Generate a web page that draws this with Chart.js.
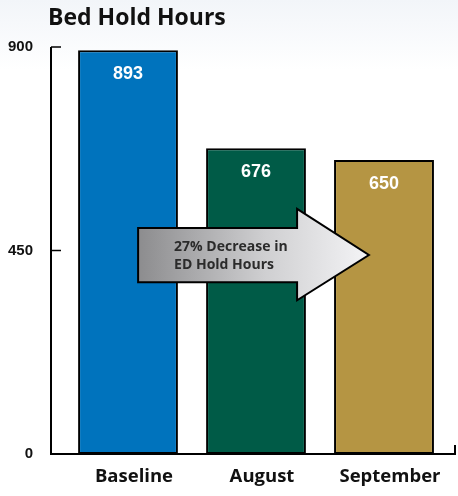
<!DOCTYPE html>
<html>
<head>
<meta charset="utf-8">
<script src="https://cdn.jsdelivr.net/npm/chart.js@4"></script>
<style>
  html, body { margin: 0; padding: 0; background: #fff; }
  #wrap { width: 458px; height: 496px; }
</style>
</head>
<body>
<div id="wrap"><canvas id="bedChart" width="458" height="496"></canvas></div>
<script>
const categories = ["Baseline", "August", "September"];
const hours = [893, 676, 650];
const yTicks = [0, 450, 900];
const barColors = ["#0073bd", "#005b47", "#b59543"];

const titleText = "Bed Hold Hours";
const arrowText = ["27% Decrease in", "ED Hold Hours"];

// title, axes, value labels and the arrow
const decorPlugin = {
  id: "decor",
  beforeDraw(chart) {
    const c = chart.ctx;
    const g = c.createLinearGradient(0, 0, 0, 70);
    g.addColorStop(0, "#f2f5f9");
    g.addColorStop(1, "#ffffff");
    c.save();
    c.fillStyle = g;
    c.fillRect(0, 0, chart.width, chart.height);
    c.restore();
  },
  afterDatasetsDraw(chart) {
    const c = chart.ctx;
    const area = chart.chartArea;
    const y = chart.scales.y;
    const meta = chart.getDatasetMeta(0);

    // value labels inside bars
    c.save();
    c.fillStyle = "#ffffff";
    c.font = "bold 18px 'Liberation Sans', Arial, sans-serif";
    c.textAlign = "center";
    c.textBaseline = "middle";
    meta.data.forEach((bar, i) => {
      c.fillText(String(hours[i]), bar.x, bar.y + 24);
    });
    c.restore();

    // axis lines
    const ax = area.left - 13;
    const y0 = y.getPixelForValue(0);
    const yTop = y.getPixelForValue(900);
    c.save();
    c.strokeStyle = "#000";
    c.lineWidth = 2;
    c.beginPath();
    c.moveTo(ax, yTop);
    c.lineTo(ax, y0);
    c.lineTo(area.right + 7, y0);
    c.lineTo(area.right + 7, y0 - 9);
    c.stroke();
    c.lineWidth = 1.5;
    [900, 450].forEach(v => {
      const py = y.getPixelForValue(v);
      c.beginPath();
      c.moveTo(ax, py);
      c.lineTo(ax + 10, py);
      c.stroke();
    });
    c.restore();

    // arrow
    const w = area.right - area.left;
    const xl = area.left + w * 0.193;
    const xh = area.left + w * 0.607;
    const xt = area.left + w * 0.794;
    const bt = y.getPixelForValue(500);
    const bb = y.getPixelForValue(380);
    const ht = y.getPixelForValue(542);
    const hb = y.getPixelForValue(340);
    const tip = y.getPixelForValue(440);
    c.save();
    const ag = c.createLinearGradient(xl, 0, xt, 0);
    ag.addColorStop(0, "#8c8c8e");
    ag.addColorStop(0.55, "#cfcfd1");
    ag.addColorStop(1, "#f4f4f6");
    c.beginPath();
    c.moveTo(xl, bt);
    c.lineTo(xh, bt);
    c.lineTo(xh, ht);
    c.lineTo(xt, tip);
    c.lineTo(xh, hb);
    c.lineTo(xh, bb);
    c.lineTo(xl, bb);
    c.closePath();
    c.fillStyle = ag;
    c.fill();
    c.strokeStyle = "#000";
    c.lineWidth = 2;
    c.lineJoin = "miter";
    c.stroke();
    c.fillStyle = "#2b2b2b";
    c.font = "bold 14px 'Open Sans', sans-serif";
    c.textAlign = "left";
    c.textBaseline = "middle";
    c.fillText(arrowText[0], xl + 36, bt + 19);
    c.fillText(arrowText[1], xl + 36, bt + 37);
    c.restore();

    // title
    c.save();
    c.fillStyle = "#111";
    c.font = "bold 23px 'Open Sans', sans-serif";
    c.textAlign = "left";
    c.textBaseline = "middle";
    c.fillText(titleText, 48, 18);
    c.restore();
  }
};

new Chart(document.getElementById("bedChart"), {
  type: "bar",
  data: {
    labels: categories,
    datasets: [{
      data: hours,
      backgroundColor: barColors,
      borderColor: "#000",
      borderWidth: 2,
      borderSkipped: false,
      categoryPercentage: 1,
      barPercentage: 0.78
    }]
  },
  options: {
    responsive: false,
    animation: false,
    layout: { padding: { top: 47, right: 10, left: 0, bottom: 0 } },
    plugins: {
      legend: { display: false },
      tooltip: { enabled: false },
      title: { display: false }
    },
    scales: {
      x: {
        grid: { display: false, drawTicks: false },
        border: { display: false },
        afterFit: s => { s.height = 42; },
        ticks: {
          color: "#111",
          padding: 12,
          labelOffset: 6,
          font: { family: "'Open Sans', sans-serif", size: 18.5, weight: "bold" }
        }
      },
      y: {
        min: 0,
        max: 900,
        afterFit: s => { s.width = 64; },
        afterBuildTicks: s => { s.ticks = yTicks.map(v => ({ value: v })); },
        grid: { display: false, drawTicks: false },
        border: { display: false },
        ticks: {
          color: "#111",
          padding: 31,
          font: { family: "'Liberation Sans', Arial, sans-serif", size: 15, weight: "bold" }
        }
      }
    }
  },
  plugins: [decorPlugin]
});
</script>
</body>
</html>
